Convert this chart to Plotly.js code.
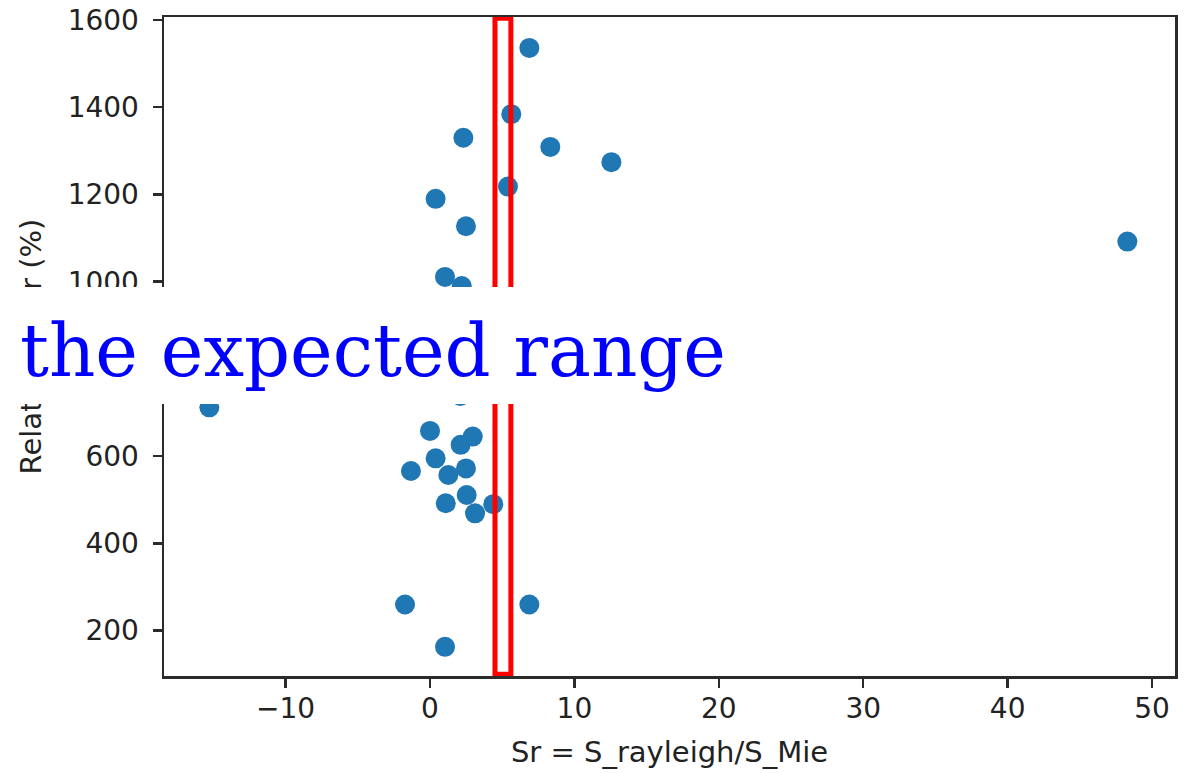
<!DOCTYPE html>
<html>
<head>
<meta charset="utf-8">
<script src="https://cdn.plot.ly/plotly-3.0.1.min.js"></script>
<style>
  html, body { margin: 0; padding: 0; background: #ffffff; }
  #chart { width: 1190px; height: 773px; }
</style>
</head>
<body>
<div id="chart"></div>
<script>
// Sr values (x) and relative error in % (y)
const srValues = [6.88, 5.63, 2.31, 8.33, 12.56, 5.40, 0.39, 2.49, 1.04, 2.20, 48.29,
                  -15.28, 2.10, 0.00, 2.96, 2.12, 0.39, -1.32, 2.49, 1.27, 1.09, 2.54,
                  3.12, 4.38, -1.73, 6.88, 1.04];
const relErrors = [1536, 1384, 1330, 1309, 1274, 1218, 1190, 1127, 1011, 990, 1092,
                   712, 738, 658, 645, 626, 595, 566, 572, 557, 492, 511,
                   469, 490, 260, 260, 163];
const expectedSr = [4.5, 5.6];        // red frame: expected Sr range
const expectedErr = [100, 1604];      // red frame vertical extent
const xTickVals = [-10, 0, 10, 20, 30, 40, 50];
const yTickVals = [200, 400, 600, 800, 1000, 1200, 1400, 1600];
const xLabel = 'Sr = S_rayleigh/S_Mie';
const yLabel = 'Relative error (%)';
const noteText = 'the expected range';

const trace = {
  type: 'scatter',
  mode: 'markers',
  x: srValues,
  y: relErrors,
  marker: { color: '#1f77b4', size: 20, line: { width: 0 } },
  hoverinfo: 'skip',
  showlegend: false
};

const axisCommon = {
  showgrid: false,
  zeroline: false,
  showline: true,
  mirror: true,
  linecolor: '#2b2b2b',
  linewidth: 2.5,
  ticks: 'outside',
  ticklen: 9,
  tickwidth: 2.5,
  tickcolor: '#2b2b2b',
  tickfont: { family: 'DejaVu Sans', size: 28, color: '#222222' },
  tickmode: 'array'
};

const layout = {
  width: 1190,
  height: 773,
  margin: { l: 164, r: 15, t: 17, b: 97, pad: 0 },
  paper_bgcolor: '#ffffff',
  plot_bgcolor: '#ffffff',
  xaxis: Object.assign({}, axisCommon, {
    range: [-18.42, 51.59],
    tickvals: xTickVals,
    ticklabelstandoff: -3,
    title: { text: xLabel, font: { family: 'DejaVu Sans', size: 29, color: '#222222' }, standoff: 18 }
  }),
  yaxis: Object.assign({}, axisCommon, {
    range: [96.1, 1606.8],
    tickvals: yTickVals,
    ticklabelstandoff: 8,
    title: { text: yLabel, font: { family: 'DejaVu Sans', size: 29, color: '#222222' }, standoff: 18 }
  }),
  shapes: [{
    type: 'rect',
    xref: 'x', yref: 'y',
    x0: expectedSr[0], x1: expectedSr[1],
    y0: expectedErr[0], y1: expectedErr[1],
    line: { color: '#ff0000', width: 5 },
    fillcolor: 'rgba(0,0,0,0)',
    layer: 'above'
  }],
  annotations: [
    {
      xref: 'paper', yref: 'paper',
      x: -164 / 1011, y: (676 - 287) / 659,
      xanchor: 'left', yanchor: 'top',
      text: '\u00a0',
      showarrow: false,
      width: 740, height: 117,
      borderpad: 0, borderwidth: 0,
      bgcolor: '#ffffff'
    },
    {
      xref: 'paper', yref: 'paper',
      x: (18 - 164) / 1011, y: (676 - 351) / 659,
      xanchor: 'left', yanchor: 'middle',
      text: noteText,
      showarrow: false,
      font: { family: 'DejaVu Serif', size: 72, color: '#0000ff' }
    }
  ]
};

Plotly.newPlot('chart', [trace], layout, { displayModeBar: false, staticPlot: true });
</script>
</body>
</html>
